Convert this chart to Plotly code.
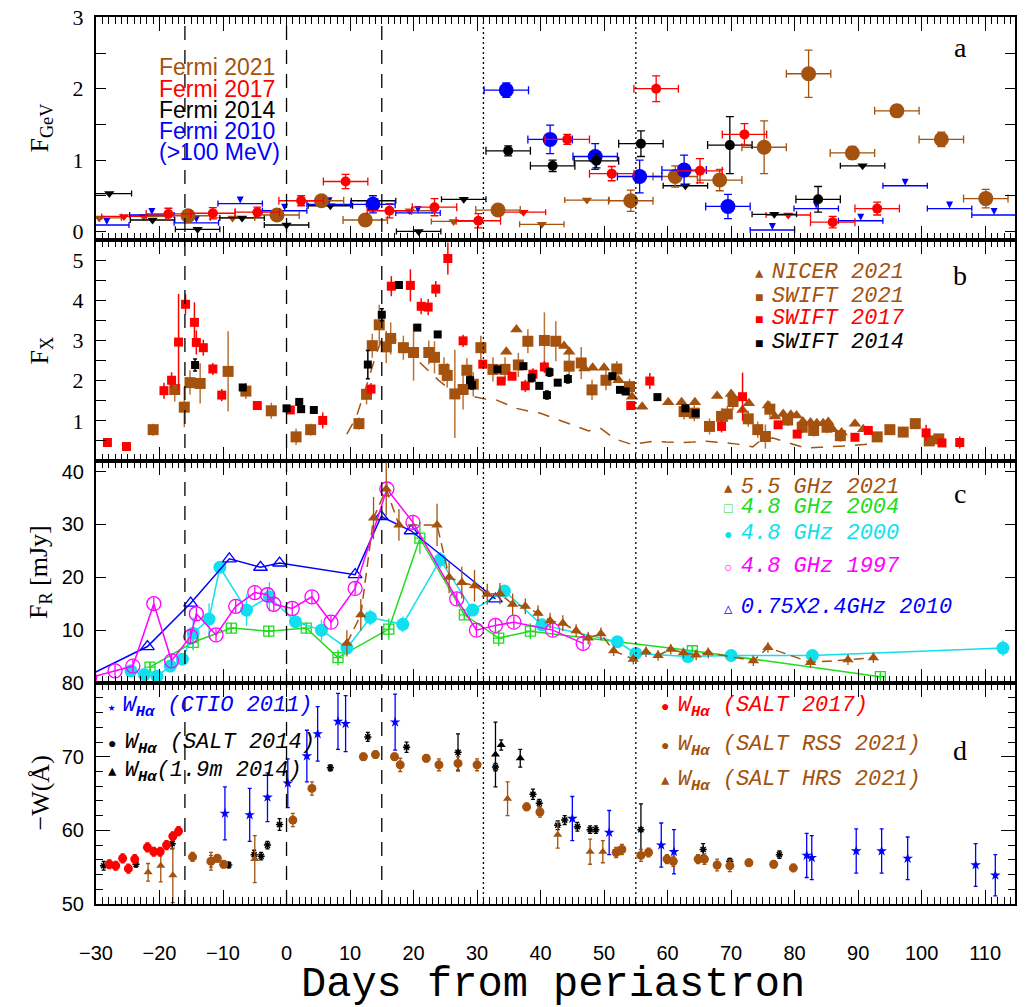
import plotly.graph_objects as go

# ---------------- colours ----------------
BROWN = "#A4520E"
RED = "#FF0000"
BLUE = "#0000FF"
BLACK = "#000000"
CYAN = "#10E0EE"
MAGENTA = "#FF00FF"
GREEN = "#1EDC1E"

# ---------------- reference lines (days) ----------------
vline_dashed = [-16, 0, 15]
vline_dotted = [31, 55]

# ---------------- panel a : Fermi ----------------
f21_x = [-15.5, -1.5, 5.5, 12.4, 33.3, 54.2, 61.2, 68.2, 75.2, 82.2, 89.1, 96.1, 103.1, 110.1]
f21_y = [0.22, 0.23, 0.43, 0.16, 0.30, 0.43, 0.77, 0.72, 1.18, 2.21, 1.10, 1.69, 1.29, 0.46]
f21_e = [0.05, 0.05, 0.05, 0.04, 0.05, 0.15, 0.15, 0.15, 0.37, 0.33, 0.09, 0.08, 0.10, 0.13]
f21_ul_x = [-29.5, -22.5, -8.5, 19.4, 26.3, 40.2, 47.3]
f21_ul_y = [0.19, 0.21, 0.19, 0.29, 0.14, 0.10, 0.44]

f17_x = [-18.6, -11.6, -4.6, 2.3, 9.3, 16.2, 23.3, 30.2, 44.2, 51.2, 58.2, 65.1, 72.1, 86.0, 93.0]
f17_y = [0.245, 0.255, 0.27, 0.43, 0.70, 0.29, 0.34, 0.15, 1.29, 0.81, 2.00, 0.85, 1.36, 0.13, 0.32]
f17_e = [0.08, 0.08, 0.07, 0.07, 0.10, 0.10, 0.12, 0.10, 0.07, 0.10, 0.18, 0.17, 0.15, 0.08, 0.09]
f17_ul_x = [-25.6, 37.3, 79.0]
f17_ul_y = [0.21, 0.27, 0.23]

f14_x = [34.9, 41.9, 48.8, 55.8, 69.8, 83.7]
f14_y = [1.13, 0.92, 0.99, 1.23, 1.21, 0.45]
f14_e = [0.07, 0.08, 0.10, 0.18, 0.40, 0.18]
f14_ul_x = [-27.9, -21.1, -14.0, -7.0, 0.0, 6.9, 13.7, 20.8, 27.9, 62.8, 76.8, 90.7]
f14_ul_y = [0.53, 0.16, 0.03, 0.19, 0.09, 0.36, 0.43, 0.00, 0.45, 0.64, 0.24, 0.92]

f10_x = [13.6, 34.6, 41.5, 48.6, 55.6, 62.6, 69.5]
f10_y = [0.38, 1.98, 1.29, 1.05, 0.77, 0.86, 0.35]
f10_e = [0.12, 0.10, 0.20, 0.18, 0.23, 0.21, 0.17]
f10_ul_x = [-28.3, -21.2, -14.2, -7.3, -0.3, 6.7, 20.7, 76.5, 83.4, 90.4, 97.4, 104.4, 111.4]
f10_ul_y = [0.09, 0.23, 0.12, 0.39, 0.29, 0.38, 0.26, 0.02, 0.32, 0.15, 0.64, 0.32, 0.23]
fermi_half_bin = 3.5

# ---------------- panel b : X-rays ----------------
sw21_x = [-21.0, -17.6, -16.1, -15.2, -13.6, -9.2, -6.4, -2.4, 1.5, 3.8, 11.4, 12.6, 13.5, 14.6, 15.7,
          16.4, 18.4, 20.0, 22.4, 23.3, 24.8, 25.3, 26.5, 27.8, 28.4, 29.4, 30.6, 32.5, 34.4, 36.5,
          38.0, 40.6, 42.4, 44.5, 46.4, 48.1, 50.3, 52.0, 54.0, 62.6, 64.2, 66.6, 68.5, 69.4, 70.3,
          72.7, 74.2, 75.4, 76.1, 78.9, 81.2, 83.0, 85.1, 87.2, 93.0, 95.0, 97.1, 99.0, 101.2, 102.7]
sw21_y = [0.78, 1.78, 1.34, 1.95, 1.93, 2.23, 1.74, 1.25, 0.60, 0.78, 0.93, 1.66, 2.87, 3.39, 2.84,
          3.05, 2.82, 2.70, 2.70, 2.58, 2.28, 2.13, 1.67, 1.78, 2.26, 1.91, 2.82, 2.28, 2.28, 2.39,
          2.98, 3.00, 2.98, 2.36, 2.44, 1.77, 2.01, 2.29, 1.85, 1.23, 1.19, 0.86, 1.11, 1.17, 1.48,
          1.05, 0.78, 0.61, 1.29, 1.02, 0.84, 0.76, 0.84, 0.63, 0.60, 0.78, 0.72, 0.93, 0.50, 0.55]
sw21_e = [0.15, 0.30, 0.50, 0.30, 0.50, 1.00, 0.20, 0.20, 0.20, 0.15, 0.15, 0.25, 0.30, 0.50, 0.40,
          0.40, 0.30, 0.70, 0.30, 0.40, 0.30, 0.30, 1.10, 0.50, 0.30, 0.30, 0.30, 0.30, 0.30, 0.30,
          0.30, 0.70, 0.50, 0.30, 0.40, 0.25, 0.25, 0.20, 0.20, 0.20, 0.20, 0.20, 0.20, 0.20, 0.20,
          0.20, 0.20, 0.30, 0.20, 0.15, 0.15, 0.15, 0.15, 0.15, 0.10, 0.10, 0.10, 0.10, 0.10, 0.10]

sw17_x = [-28.2, -25.2, -19.3, -18.1, -17.0, -15.9, -14.5, -14.2, -13.1, -11.6, -10.2, -4.6, 0.6, 5.7,
          13.3, 16.5, 19.5, 21.2, 22.3, 23.5, 25.4, 27.8, 30.9, 33.8, 35.5, 37.6, 38.8, 40.6, 54.2,
          57.2, 68.5, 71.8, 77.4, 80.4, 89.5, 91.6, 100.7, 103.2, 106.0]
sw17_y = [0.46, 0.36, 1.75, 2.01, 2.96, 3.90, 3.45, 2.95, 2.82, 2.29, 1.64, 1.38, 1.27, 1.01,
          1.79, 4.35, 4.37, 3.85, 3.83, 4.28, 5.04, 2.99, 2.41, 1.99, 2.11, 1.87, 2.16, 2.34, 1.38,
          1.99, 0.86, 1.60, 0.90, 0.67, 0.59, 0.76, 0.70, 0.45, 0.46]
sw17_e = [0.05, 0.05, 0.20, 0.20, 1.20, 0.25, 0.50, 0.30, 0.20, 0.15, 0.15, 0.10, 0.10, 0.20,
          0.15, 0.25, 0.40, 0.20, 0.20, 0.20, 0.40, 0.15, 0.10, 0.10, 0.10, 0.15, 0.15, 0.15, 0.10,
          0.20, 0.15, 0.60, 0.10, 0.10, 0.10, 0.10, 0.20, 0.10, 0.15]

sw14_x = [-14.4, -6.9, 0.0, 2.0, 2.3, 4.3, 12.8, 15.0, 17.7, 20.6, 23.8, 28.9, 29.2, 33.2, 37.3, 38.6,
          39.8, 41.0, 41.4, 42.7, 44.3, 51.3, 52.5, 53.4, 58.4, 62.8, 64.4]
sw14_y = [2.39, 1.83, 1.31, 1.47, 1.29, 1.27, 2.40, 3.64, 4.38, 3.32, 3.15, 2.01, 1.89, 2.28, 2.36, 2.07,
          1.87, 1.64, 2.21, 1.95, 2.04, 2.11, 1.77, 1.73, 1.59, 1.31, 1.19]
sw14_e = [0.15, 0.05, 0.05, 0.05, 0.05, 0.08, 0.35, 0.15, 0.05, 0.05, 0.05, 0.10, 0.10, 0.05, 0.05, 0.10,
          0.05, 0.10, 0.10, 0.05, 0.10, 0.05, 0.05, 0.05, 0.05, 0.05, 0.05]

nicer_x = [34.6, 36.2, 43.7, 44.5, 46.9, 48.2, 50.0, 52.3, 54.4, 56.0, 60.1, 62.2, 64.3, 67.8, 70.0, 71.8,
           72.8, 75.8, 76.9, 78.2, 79.4, 80.3, 81.3, 82.5, 83.5, 84.5, 85.3, 86.0, 87.4, 89.5, 90.8]
nicer_y = [2.72, 3.27, 2.86, 2.72, 2.30, 2.32, 2.32, 2.01, 1.60, 1.35, 1.46, 1.46, 1.46, 1.62, 1.67, 1.27,
           1.44, 1.38, 1.11, 1.17, 1.15, 1.13, 0.98, 0.96, 0.94, 0.94, 0.97, 0.79, 0.71, 0.93, 0.79]

model_x = [9.5, 11.0, 12.7, 14.0, 15.3, 16.5, 18.0, 20.0, 22.0, 24.0, 25.5, 27.0, 29.0, 31.3, 33.0, 34.7,
           36.2, 38.4, 40.0, 42.0, 44.0, 46.0, 47.6, 49.4, 51.7, 54.4, 56.0, 57.7, 59.8, 62.0, 64.0,
           66.1, 69.3, 71.0, 73.4, 74.8, 76.6, 79.0, 81.8, 84.0, 87.1, 89.5, 92.4]
model_y = [0.67, 1.10, 1.93, 2.60, 3.17, 3.10, 2.90, 2.60, 2.30, 2.00, 1.81, 1.70, 1.62, 1.54, 1.52, 1.41,
           1.31, 1.23, 1.19, 1.07, 0.95, 0.85, 0.75, 0.82, 0.55, 0.41, 0.45, 0.49, 0.47, 0.46, 0.47,
           0.49, 0.45, 0.42, 0.35, 0.53, 0.57, 0.45, 0.32, 0.34, 0.36, 0.39, 0.43]

# ---------------- panel c : radio ----------------
r10_x = [-31.0, -21.9, -15.1, -9.0, -4.1, -1.1, 10.8, 14.9, 19.6, 32.9]
r10_y = [1.5, 6.9, 15.1, 23.5, 21.9, 22.7, 20.5, 31.5, 28.8, 15.9]

r00_x = [-24.5, -22.4, -20.4, -18.3, -16.4, -14.7, -12.2, -10.5, -6.3, -2.7, 1.4, 5.5, 9.5, 13.2, 18.3,
         24.2, 29.3, 34.3, 40.2, 52.1, 55.0, 63.2, 70.0, 82.8, 112.8]
r00_y = [2.3, 1.6, 1.3, 3.2, 4.5, 9.4, 12.1, 21.9, 13.8, 16.3, 11.6, 10.0, 6.6, 12.4, 11.1,
         23.3, 13.8, 17.4, 11.0, 7.8, 5.6, 5.0, 5.2, 5.2, 6.6]
r00_e = [0.5, 0.5, 0.5, 0.8, 0.8, 3.0, 3.0, 0.8, 3.0, 2.8, 0.8, 2.0, 1.0, 1.5, 1.5,
         1.5, 1.0, 1.0, 1.0, 0.5, 0.5, 1.0, 0.5, 0.5, 1.5]

r97_x = [-31.0, -27.0, -24.2, -20.9, -18.1, -15.1, -14.2, -11.1, -8.0, -5.0, -3.0, -2.0, 0.9, 4.0, 7.0,
         10.8, 15.8, 19.9, 26.8, 29.9, 32.9, 35.8, 41.9, 46.7]
r97_y = [1.0, 2.3, 3.2, 15.0, 4.2, 8.8, 13.1, 9.1, 14.5, 17.1, 16.7, 14.9, 14.1, 16.3, 11.5,
         17.9, 36.7, 30.4, 15.9, 10.0, 10.9, 11.5, 10.0, 7.5]

r04_x = [-21.5, -14.7, -8.7, -2.8, 3.1, 8.1, 16.1, 21.0, 28.0, 33.4, 38.4, 63.9, 93.5]
r04_y = [3.0, 7.7, 10.4, 9.8, 10.4, 4.8, 10.2, 27.4, 12.9, 8.5, 9.8, 6.1, 1.2]
r04_e = [1.0, 1.5, 1.0, 1.0, 1.0, 1.5, 2.0, 3.0, 1.0, 1.5, 1.5, 1.0, 0.5]

r21_x = [9.5, 11.7, 13.7, 15.7, 17.7, 23.7, 25.6, 27.6, 29.6, 31.6, 33.6, 35.6, 37.6, 39.6, 41.5, 43.5,
         45.6, 47.5, 49.5, 51.5, 54.6, 56.6, 58.5, 60.5, 62.5, 64.5, 66.4, 73.5, 75.8, 82.5, 88.4, 92.4]
r21_y = [7.5, 12.9, 31.2, 36.7, 29.9, 29.9, 20.0, 19.0, 18.4, 16.8, 16.9, 14.9, 14.5, 13.2, 11.8, 11.3,
         9.9, 8.5, 9.3, 6.1, 4.5, 5.9, 5.2, 6.4, 5.7, 5.3, 5.7, 4.2, 6.7, 3.9, 4.4, 4.8]
r21_e = [2.5, 3.0, 4.0, 5.0, 3.0, 4.0, 3.0, 3.0, 3.0, 2.0, 2.0, 2.0, 1.5, 1.5, 1.5, 1.5,
         1.2, 1.2, 1.2, 1.0, 1.0, 1.0, 1.0, 1.0, 1.0, 1.0, 1.0, 1.0, 1.0, 1.0, 1.0, 1.0]

# ---------------- panel d : H-alpha EW ----------------
ctio_x = [-9.7, -5.8, -3.0, 0.2, 3.2, 4.9, 8.1, 9.3, 17.1, 45.0, 50.8, 59.0, 61.0, 81.9, 82.7, 89.7,
          93.7, 97.8, 108.5, 111.6]
ctio_y = [62.3, 62.1, 64.5, 66.4, 70.1, 73.1, 74.8, 74.5, 74.7, 61.6, 59.7, 58.0, 57.1, 56.6, 56.3, 57.2,
          57.2, 56.2, 55.3, 53.9]
ctio_e = [3.6, 3.6, 3.3, 3.3, 3.5, 3.7, 3.8, 3.8, 3.8, 3.0, 3.0, 3.0, 3.0, 3.0, 3.0, 3.0,
          3.0, 2.9, 2.9, 2.8]

s14_x = [-28.8, -23.7, -18.0, -9.1, -5.1, -4.0, -3.0, -1.1, 6.9, 12.8, 18.9, 27.0, 32.9, 38.8, 39.8,
         42.7, 43.8, 45.8, 47.8, 48.7, 55.8, 65.6, 69.8, 77.6]
s14_y = [55.2, 55.4, 58.2, 55.3, 56.7, 56.5, 58.0, 60.8, 68.5, 72.7, 71.3, 70.6, 68.6, 64.9, 63.7,
         60.7, 61.4, 60.5, 60.1, 60.1, 60.1, 57.4, 55.8, 56.7]
s14_e = [0.6, 0.4, 0.7, 0.4, 0.6, 0.5, 0.5, 0.8, 0.4, 0.6, 0.7, 2.5, 0.5, 0.7, 0.5,
         0.6, 0.6, 0.6, 0.5, 0.5, 3.5, 0.8, 0.4, 0.5]

m19_x = [32.9, 33.8, 36.8]
m19_y = [70.3, 71.6, 69.8]
m19_e = [4.4, 0.7, 1.2]

s17_x = [-27.9, -26.9, -25.8, -24.9, -23.9, -21.9, -20.9, -19.9, -18.9, -17.9, -17.0]
s17_y = [55.4, 55.2, 56.2, 54.8, 56.1, 57.7, 57.1, 57.1, 58.0, 59.2, 59.9]
s17_e = [0.6, 0.6, 0.6, 0.6, 0.6, 0.6, 0.6, 0.6, 0.6, 0.6, 0.6]

rss_x = [-14.8, -11.9, -10.9, -9.9, 1.0, 4.0, 12.1, 14.0, 17.0, 17.9, 22.0, 24.0, 27.0, 30.0, 37.8,
         39.9, 51.9, 52.8, 55.8, 57.0, 59.9, 60.9, 64.8, 65.8, 67.8, 69.8, 72.8, 76.7, 79.8]
rss_y = [56.4, 55.8, 56.2, 55.4, 61.4, 65.7, 70.0, 70.3, 70.0, 68.9, 69.8, 68.9, 69.1, 68.9, 63.2,
         62.5, 57.0, 57.4, 56.6, 57.0, 56.1, 55.8, 56.1, 56.1, 55.3, 55.2, 55.6, 55.4, 54.9]
rss_e = [0.6, 0.8, 0.5, 0.5, 0.9, 0.9, 0.5, 0.5, 0.5, 0.9, 0.5, 0.8, 0.9, 0.8, 0.5,
         0.7, 0.7, 0.7, 0.8, 0.6, 0.6, 0.7, 0.6, 0.7, 0.8, 0.8, 0.5, 0.5, 0.5]

hrs_x = [-21.8, -19.8, -17.9, -11.9, -5.0, 34.8, 42.7, 47.8, 49.8]
hrs_y = [54.3, 55.2, 53.9, 55.8, 56.1, 64.3, 59.4, 57.1, 57.1]
hrs_e = [1.2, 2.2, 3.7, 1.2, 3.2, 2.3, 1.8, 1.7, 1.5]

# ---------------- axes ticks ----------------
x_range = [-30, 114.7]
ya_range, ya_ticks = [-0.12, 3.005], [0, 1, 2, 3]
yb_range, yb_ticks = [0, 5.5], [1, 2, 3, 4, 5]
yc_range, yc_ticks = [0, 42], [10, 20, 30, 40]
yd_range, yd_ticks = [50, 80.02], [50, 60, 70, 80]

fig = go.Figure()


def axn(p):
    return ("x", "y") if p == 1 else (f"x{p}", f"y{p}")


def add(x, y, p, color, symbol="circle", size=8, mode="markers", xerr=None, yerr=None,
        yerr_const=None, cap=3, ecolor=None, ewidth=1.3, lw=1.5, dash=None, mlw=0, mcolor=None,
        opacity=1.0):
    xa, ya = axn(p)
    kw = dict(x=x, y=y, xaxis=xa, yaxis=ya, mode=mode, showlegend=False, hoverinfo="skip",
              marker=dict(color=mcolor or color, symbol=symbol, size=size,
                          line=dict(color=color, width=mlw)),
              line=dict(color=color, width=lw, dash=dash), opacity=opacity)
    if xerr is not None:
        kw["error_x"] = dict(type="constant", value=xerr, color=ecolor or color,
                             thickness=ewidth, width=cap)
    if yerr is not None:
        kw["error_y"] = dict(type="data", array=yerr, color=ecolor or color,
                             thickness=ewidth, width=cap)
    if yerr_const is not None:
        kw["error_y"] = dict(type="constant", value=yerr_const, color=ecolor or color,
                             thickness=ewidth, width=cap)
    fig.add_trace(go.Scatter(**kw))


# ---- panel a
add(f21_ul_x, f21_ul_y, 1, BROWN, "triangle-down", 9, xerr=fermi_half_bin, cap=3)
add(f17_ul_x, f17_ul_y, 1, RED, "triangle-down", 9, xerr=fermi_half_bin, cap=3)
add(f14_ul_x, f14_ul_y, 1, BLACK, "triangle-down", 9, xerr=fermi_half_bin, cap=3)
add(f10_ul_x, f10_ul_y, 1, BLUE, "arrow-down", 7, xerr=fermi_half_bin, cap=3)
add(f21_x, f21_y, 1, BROWN, "circle", 15, xerr=fermi_half_bin, yerr=f21_e, cap=4)
add(f10_x, f10_y, 1, BLUE, "circle", 15, xerr=fermi_half_bin, yerr=f10_e, cap=4)
add(f14_x, f14_y, 1, BLACK, "circle", 10, xerr=fermi_half_bin, yerr=f14_e, cap=4)
add(f17_x, f17_y, 1, RED, "circle", 10, xerr=fermi_half_bin, yerr=f17_e, cap=4)

# ---- panel b
add(model_x, model_y, 2, BROWN, mode="lines", lw=1.5, dash="12px,10px")
add(sw21_x, sw21_y, 2, BROWN, "square", 11, yerr=sw21_e, cap=0, ewidth=1.5, ecolor="#B8733A")
add(nicer_x, nicer_y, 2, BROWN, "triangle-up", 11)
add(sw17_x, sw17_y, 2, RED, "square", 9, yerr=sw17_e, cap=0, ewidth=1.5)
add(sw14_x, sw14_y, 2, BLACK, "square", 8, yerr=sw14_e, cap=2, ewidth=1.5)

# ---- panel c
add(r04_x, r04_y, 3, GREEN, "square-cross-open", 10, mode="lines+markers", yerr=r04_e, cap=0, mlw=1.3)
add(r00_x, r00_y, 3, CYAN, "circle", 13, mode="lines+markers", yerr=r00_e, cap=0)
add(r10_x, r10_y, 3, BLUE, "triangle-up-open", 12, mode="lines+markers", mlw=1.3)
add(r97_x, r97_y, 3, MAGENTA, "circle-open", 14, mode="lines+markers", yerr_const=1.2, cap=0, mlw=1.3)
add(r21_x, r21_y, 3, BROWN, "triangle-up", 10, mode="lines+markers", yerr=r21_e, cap=0,
    dash="10px,6px")

# ---- panel d
add(ctio_x, ctio_y, 4, BLUE, "star", 8, yerr=ctio_e, cap=2)
add(s14_x, s14_y, 4, BLACK, "asterisk-open", 6, yerr=s14_e, cap=2, mlw=1.5)
add(m19_x, m19_y, 4, BLACK, "triangle-up", 8, yerr=m19_e, cap=2)
add(hrs_x, hrs_y, 4, BROWN, "triangle-up", 8, yerr=hrs_e, cap=2)
add(rss_x, rss_y, 4, BROWN, "circle", 9, yerr=rss_e, cap=2)
add(s17_x, s17_y, 4, RED, "circle", 9, yerr=s17_e, cap=2)

# ---------------- reference lines ----------------
for xv in vline_dashed:
    fig.add_shape(type="line", xref="x", yref="paper", x0=xv, x1=xv, y0=0, y1=1,
                  line=dict(color="black", width=1.3, dash="14px,10px"), layer="above")
for xv in vline_dotted:
    fig.add_shape(type="line", xref="x", yref="paper", x0=xv, x1=xv, y0=0, y1=1,
                  line=dict(color="black", width=1.3, dash="2px,3px"), layer="above")

# ---------------- layout / axes ----------------
# page body adds an 8px offset, so margins are reduced accordingly
W, H = 1025, 1007
PAGE_OFF = 8
PL, PR, PT, PB = 96, 1015, 17, 904        # plot area in window pixels
L, T = PL - PAGE_OFF, PT - PAGE_OFF
R = W - (PR - PAGE_OFF)
B = H - (PB - PAGE_OFF)
ph = PB - PT
pw = PR - PL
bounds = [17, 240, 461, 683, 904]   # window-pixel boundaries of panels (top to bottom)
doms = [[(PB - bounds[i + 1]) / ph, (PB - bounds[i]) / ph] for i in range(4)]

xcommon = dict(range=x_range, dtick=10, tick0=0, ticks="inside", ticklen=14, tickwidth=1.3,
               tickcolor="black", showline=True, linewidth=2, linecolor="black", mirror="allticks",
               showgrid=False, zeroline=False,
               minor=dict(dtick=1, ticklen=7, tickwidth=1, ticks="inside", tickcolor="black",
                          showgrid=False))
serif = "Liberation Serif, Times New Roman, serif"
sans = "Liberation Sans, Arial, sans-serif"
narrow = "Liberation Sans Narrow, Liberation Sans, Arial, sans-serif"
mono = "Liberation Mono, Courier New, monospace"

layout = dict(width=W, height=H, margin=dict(l=L, r=R, t=T, b=B, autoexpand=False),
              paper_bgcolor="white", plot_bgcolor="white", showlegend=False)

ycfg = [
    (ya_range, ya_ticks, dict(dtick=0.5, ticklen=10), serif, 22),
    (yb_range, yb_ticks, dict(dtick=0.5, ticklen=10), serif, 22),
    (yc_range, yc_ticks, None, sans, 20),
    (yd_range, yd_ticks, dict(dtick=2, ticklen=7), sans, 20),
]
for i in range(4):
    p = i + 1
    xk = "xaxis" if p == 1 else f"xaxis{p}"
    yk = "yaxis" if p == 1 else f"yaxis{p}"
    xa = dict(xcommon, anchor="y" if p == 1 else f"y{p}", domain=[0, 1])
    if p > 1:
        xa["matches"] = "x"
    if p == 4:
        xa.update(showticklabels=True, tickfont=dict(family=narrow, size=20, color="black"),
                  ticklabelstandoff=30, ticklabeloverflow="allow")
    else:
        xa["showticklabels"] = False
    layout[xk] = xa
    rng, tv, minor, fam, fs = ycfg[i]
    ya = dict(range=rng, tickvals=tv, ticks="inside", ticklen=10 if p < 4 else 14, tickwidth=1.3,
              tickcolor="black", showline=True, linewidth=2, linecolor="black", mirror="allticks",
              showgrid=False, zeroline=False, anchor="x" if p == 1 else f"x{p}", domain=doms[i],
              tickfont=dict(family=fam, size=fs, color="black"), ticklabelstandoff=6,
              ticklabeloverflow="allow")
    if minor:
        ya["minor"] = dict(minor, ticks="inside", tickwidth=1, tickcolor="black", showgrid=False)
    layout[yk] = ya

fig.update_layout(**layout)


# ---------------- texts ----------------
def ann(text, x, y, p, color="black", family=serif, size=22, xanchor="left", yanchor="middle"):
    xr = "x domain" if p == 1 else f"x{p} domain"
    yr = "y domain" if p == 1 else f"y{p} domain"
    fig.add_annotation(text=text, x=x, y=y, xref=xr, yref=yr, showarrow=False,
                       xanchor=xanchor, yanchor=yanchor,
                       font=dict(family=family, size=size, color=color))


def px2dom_x(px):
    return (px - PL) / pw


def px2dom_y(py, p):
    top, bot = bounds[p - 1], bounds[p]
    return (bot - py) / (bot - top)


# panel letters
for p, (lab, py) in enumerate([("a", 47), ("b", 275), ("c", 493), ("d", 750)], start=1):
    ann(lab, px2dom_x(960), px2dom_y(py, p), p, size=28, xanchor="center")

# panel a legend
for txt, col, py in [("Fermi 2021", BROWN, 67), ("Fermi 2017", RED, 89), ("Fermi 2014", BLACK, 110),
                     ("Fermi 2010", BLUE, 131), ("(>100 MeV)", BLUE, 152)]:
    ann(txt, px2dom_x(157), px2dom_y(py, 1), 1, color=col, family=sans, size=23)


def glyph(g, s=14):
    return f"<span style='font-size:{s}px'>{g} </span>"


# panel b legend
for g, txt, col, py in [("▲", "NICER 2021", BROWN, 272), ("■", "SWIFT 2021", BROWN, 296),
                        ("■", "SWIFT 2017", RED, 318), ("■", "SWIFT 2014", BLACK, 342)]:
    ann(glyph(g) + f"<i>{txt}</i>", px2dom_x(753), px2dom_y(py, 2), 2, color=col, family=mono, size=22)

# panel c legend
for g, txt, col, py in [("▲", "5.5 GHz 2021", BROWN, 487), ("□", "4.8 GHz 2004", GREEN, 507),
                        ("●", "4.8 GHz 2000", CYAN, 533), ("○", "4.8 GHz 1997", MAGENTA, 566),
                        ("△", "0.75X2.4GHz 2010", BLUE, 607)]:
    ann(glyph(g) + f"<i>{txt}</i>", px2dom_x(722), px2dom_y(py, 3), 3, color=col, family=mono, size=22)

# panel d legend
W_HA = "W<sub><b>Hα</b></sub>"
for g, txt, col, pxx, py in [("★", " (CTIO 2011)", BLUE, 106, 707), ("●", " (SALT 2014)", BLACK, 106, 744),
                             ("▲", "(1.9m 2014)", BLACK, 106, 772), ("●", " (SALT 2017)", RED, 659, 707),
                             ("●", " (SALT RSS 2021)", BROWN, 659, 746),
                             ("▲", " (SALT HRS 2021)", BROWN, 659, 781)]:
    ann(glyph(g, 12 if g == "★" else 14) + f"<i>{W_HA}{txt}</i>", px2dom_x(pxx), px2dom_y(py, 4), 4,
        color=col, family=mono, size=22)

# axis titles
ytitles = ["F<sub>GeV</sub>", "F<sub>X</sub>", "F<sub>R</sub> [mJy]", "−W(Å)"]
for p, t in enumerate(ytitles, start=1):
    fig.add_annotation(text=t, textangle=-90, x=(40 - PL) / pw, xref="paper",
                       y=0.5, yref=("y domain" if p == 1 else f"y{p} domain"),
                       showarrow=False, xanchor="center", yanchor="middle",
                       font=dict(family=serif, size=26, color="black"))

fig.add_annotation(text="Days from periastron", x=(553 - PL) / pw, xref="paper",
                   y=-(985 - PB) / ph, yref="paper", showarrow=False, xanchor="center",
                   yanchor="middle", font=dict(family=mono, size=42, color="black"))

fig.write_html("out.html")
